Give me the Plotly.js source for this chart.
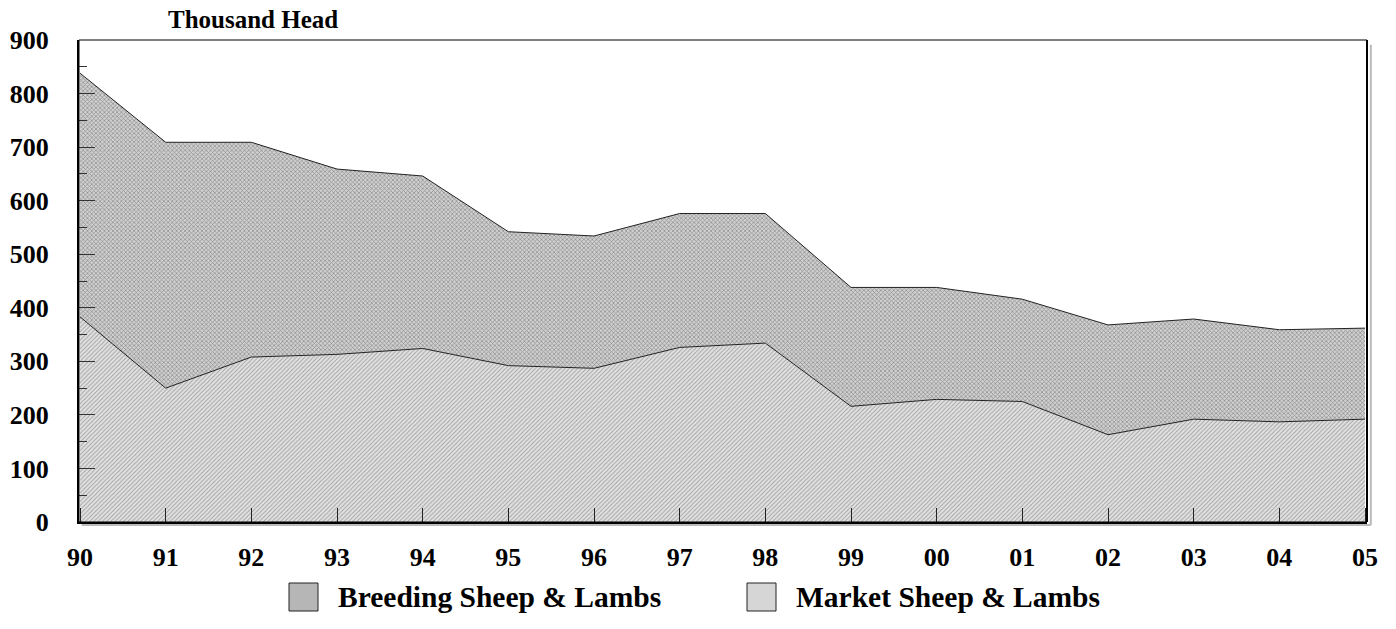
<!DOCTYPE html>
<html>
<head>
<meta charset="utf-8">
<script src="https://cdn.plot.ly/plotly-3.0.1.min.js"></script>
<style>
  html, body { margin: 0; padding: 0; background: #fff; }
  #chart { width: 1396px; height: 629px; }
</style>
</head>
<body>
<div id="chart"></div>
<script>
const years = ['90','91','92','93','94','95','96','97','98','99','00','01','02','03','04','05'];
const market = [383, 250, 308, 313, 324, 292, 287, 326, 334, 216, 229, 225, 163, 192, 187, 192];
const breeding = [455, 459, 401, 346, 322, 250, 247, 250, 242, 222, 209, 191, 205, 187, 172, 170];
const yTicks = [0, 100, 200, 300, 400, 500, 600, 700, 800, 900];
const seriesNames = ['Breeding Sheep & Lambs', 'Market Sheep & Lambs'];

const xIdx = years.map((_, i) => i);
const serif = 'Liberation Serif, Times New Roman, serif';

const traces = [
  {
    x: xIdx, y: market, type: 'scatter', mode: 'lines', name: seriesNames[1],
    stackgroup: 'one', fill: 'tozeroy',
    line: {color: '#222', width: 1},
    fillcolor: '#d6d6d6',
    fillpattern: {shape: '/', size: 3, solidity: 0.3, fgcolor: '#a0a0a0', bgcolor: '#e2e2e2'},
    hoverinfo: 'skip', showlegend: false
  },
  {
    x: xIdx, y: breeding, type: 'scatter', mode: 'lines', name: seriesNames[0],
    stackgroup: 'one', fill: 'tonexty',
    line: {color: '#222', width: 1},
    fillcolor: '#b6b6b6',
    fillpattern: {shape: 'x', size: 3, solidity: 0.4, fgcolor: '#8a8a8a', bgcolor: '#d0d0d0'},
    hoverinfo: 'skip', showlegend: false
  }
];

const tickFont = {family: serif, size: 26, color: '#000', weight: 'bold'};

const layout = {
  width: 1396, height: 629,
  margin: {l: 79, r: 29, t: 40, b: 107},
  paper_bgcolor: '#fff', plot_bgcolor: '#fff',
  showlegend: false,
  xaxis: {
    range: [-0.012, 15.023],
    tickvals: xIdx, ticktext: years,
    ticks: 'inside', ticklen: 14, tickwidth: 1, tickcolor: '#222',
    showgrid: false, zeroline: false,
    showline: true, linecolor: '#000', linewidth: 2,
    tickfont: tickFont, ticklabelstandoff: 11
  },
  yaxis: {
    range: [0, 900],
    tickvals: yTicks,
    ticks: 'inside', ticklen: 16, tickwidth: 1, tickcolor: '#333',
    minor: {dtick: 50, ticks: 'inside', ticklen: 8, tickcolor: '#333', tickwidth: 1, showgrid: false},
    showgrid: false, zeroline: false,
    showline: true, linecolor: '#000', linewidth: 2,
    tickfont: tickFont, ticklabelstandoff: 23
  },
  shapes: [
    {type: 'rect', xref: 'paper', yref: 'paper', x0: 0, x1: 1, y0: 0, y1: 1,
     line: {color: '#000', width: 1}, fillcolor: 'rgba(0,0,0,0)'},
    {type: 'line', xref: 'paper', yref: 'paper', x0: 1, x1: 1, y0: 0, y1: 1,
     line: {color: '#000', width: 2}},
    {type: 'line', xref: 'paper', yref: 'paper', x0: 0.002, x1: 1.003, y0: -0.006, y1: -0.006,
     line: {color: '#bbb', width: 2}},
    {type: 'line', xref: 'paper', yref: 'paper', x0: 1.003, x1: 1.003, y0: -0.006, y1: 0.99,
     line: {color: '#bbb', width: 2}},
    // legend swatches
    {type: 'rect', xref: 'paper', yref: 'paper', x0: (289-79)/1288, x1: (318-79)/1288,
     y0: (522-611)/482, y1: (522-583)/482,
     line: {color: '#222', width: 1}, fillcolor: '#b6b6b6'},
    {type: 'rect', xref: 'paper', yref: 'paper', x0: (747-79)/1288, x1: (776-79)/1288,
     y0: (522-611)/482, y1: (522-583)/482,
     line: {color: '#222', width: 1}, fillcolor: '#d6d6d6'}
  ],
  annotations: [
    {text: 'Thousand Head', xref: 'paper', yref: 'paper', x: (253-79)/1288, y: (522-20)/482,
     xanchor: 'center', yanchor: 'middle', showarrow: false,
     font: {family: serif, size: 25, color: '#000', weight: 'bold'}},
    {text: seriesNames[0], xref: 'paper', yref: 'paper', x: (336-79)/1288, y: (522-597)/482,
     xanchor: 'left', yanchor: 'middle', showarrow: false,
     font: {family: serif, size: 29.5, color: '#000', weight: 'bold'}},
    {text: seriesNames[1], xref: 'paper', yref: 'paper', x: (794-79)/1288, y: (522-597)/482,
     xanchor: 'left', yanchor: 'middle', showarrow: false,
     font: {family: serif, size: 29.5, color: '#000', weight: 'bold'}}
  ]
};

Plotly.newPlot('chart', traces, layout, {staticPlot: true, displayModeBar: false});
</script>
</body>
</html>
